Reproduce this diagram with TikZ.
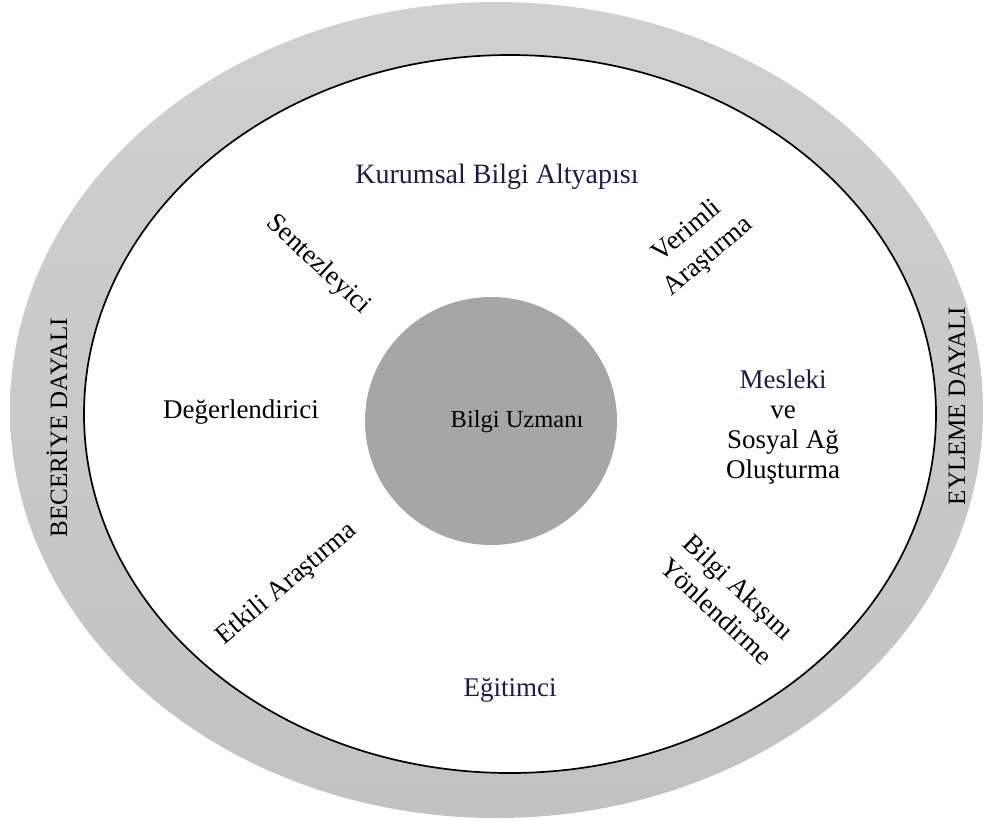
\documentclass[tikz,border=0pt]{standalone}
\usepackage{fontspec}
\setmainfont{Liberation Serif}
\usetikzlibrary{shapes.geometric}
\definecolor{ringtop}{HTML}{D0D0D0}
\definecolor{ringbot}{HTML}{C2C2C2}
\definecolor{corefill}{HTML}{A6A6A6}
\definecolor{navy}{HTML}{1C1C48}
\tikzset{
  lbl/.style={inner sep=0pt, align=center, font=\fontsize{27}{30}\selectfont},
  tiltlbl/.style={lbl, font=\fontsize{27}{33}\selectfont},
  sidelbl/.style={inner sep=0pt, rotate=90, font=\fontsize{25}{28}\selectfont},
}
\begin{document}
\begin{tikzpicture}[x=1pt, y=-1pt]
  \useasboundingbox (0,0) rectangle (985,820);
  % outer grey ring
  \shade[top color=ringtop, bottom color=ringbot]
    (496.5,410) ellipse [x radius=486.5pt, y radius=408pt];
  % inner white field
  \draw[line width=1.7pt, fill=white]
    (510,414) ellipse [x radius=426pt, y radius=359pt];
  % central core
  \node[ellipse, fill=corefill, minimum width=252pt, minimum height=248pt,
        inner sep=0pt] (core) at (491,421) {};
  \node[lbl, font=\fontsize{24.5}{28}\selectfont] (uzman) at (517,422) {Bilgi Uzmanı};

  \node[lbl, text=navy, font=\fontsize{28}{31}\selectfont] (kurumsal) at (497,177)
    {Kurumsal Bilgi Altyapısı};
  \node[tiltlbl, rotate=-43] (sentez) at (318,265) {Sentezleyici};
  \node[tiltlbl, rotate=40] (verimli) at (698,244) {Verimli\\Araştırma};
  \node[lbl] (degerl) at (241,412) {Değerlendirici};
  \node[lbl] (mesleki) at (783,427)
    {\textcolor{navy}{Mesleki}\\ve\\Sosyal Ağ\\Oluşturma};
  \node[tiltlbl, rotate=40] (etkili) at (287,584) {Etkili Araştırma};
  \node[tiltlbl, rotate=-43] (akis) at (728,599) {Bilgi Akışını\\Yönlendirme};
  \node[lbl, text=navy] (egitim) at (510,690) {Eğitimci};

  \node[sidelbl] (beceri) at (57,428) {BECERİYE DAYALI};
  \node[sidelbl] (eylem) at (957,406) {EYLEME DAYALI};
\end{tikzpicture}
\end{document}
